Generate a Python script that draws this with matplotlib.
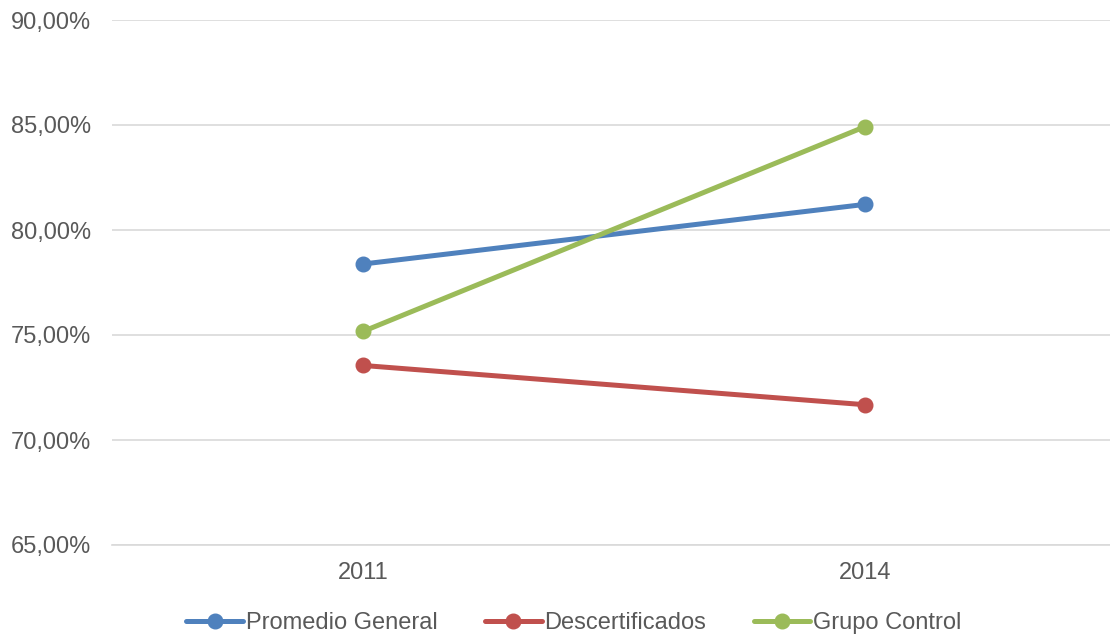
import matplotlib.pyplot as plt
from matplotlib.ticker import FuncFormatter

# data
years = ["2011", "2014"]
promedio_general = [78.38, 81.22]
descertificados = [73.55, 71.68]
grupo_control = [75.17, 84.92]

series_names = ["Promedio General", "Descertificados", "Grupo Control"]
series_colors = ["#4F81BD", "#C0504D", "#9BBB59"]

yticks = [65, 70, 75, 80, 85, 90]

plt.rcParams['font.family'] = ['Liberation Sans', 'DejaVu Sans']

fig = plt.figure(figsize=(11.10, 6.37), dpi=100)
ax = fig.add_axes([112 / 1110, 1 - 545 / 637, (1116 - 112) / 1110, 525 / 637])

x = list(range(len(years)))
for vals, name, col in zip([promedio_general, descertificados, grupo_control],
                           series_names, series_colors):
    ax.plot(x, vals, color=col, lw=3.6, marker="o", markersize=10.5,
            label=name, solid_capstyle="round")

ax.set_xlim(-0.5, 1.5)
ax.set_ylim(65, 90)
ax.set_yticks(yticks)
ax.yaxis.set_major_formatter(FuncFormatter(lambda v, p: f"{v:.2f}%".replace(".", ",")))
ax.set_xticks(x)
ax.set_xticklabels(years)

ax.grid(axis="y", color="#D9D9D9", lw=1.2)
ax.set_axisbelow(True)
for s in ["top", "right", "left"]:
    ax.spines[s].set_visible(False)
ax.spines["bottom"].set_color("#D9D9D9")
ax.spines["bottom"].set_linewidth(1.2)
ax.tick_params(axis="both", length=0, labelsize=17, colors="#595959")
ax.tick_params(axis="y", pad=15)
ax.tick_params(axis="x", pad=12)

leg = fig.legend(loc="center", bbox_to_anchor=(574 / 1110, 1 - 623 / 637), ncol=3,
                 frameon=False, fontsize=17, handlelength=2.4,
                 handletextpad=0.13, columnspacing=2.0)
for t in leg.get_texts():
    t.set_color("#595959")

fig.savefig("out.png", dpi=100)
